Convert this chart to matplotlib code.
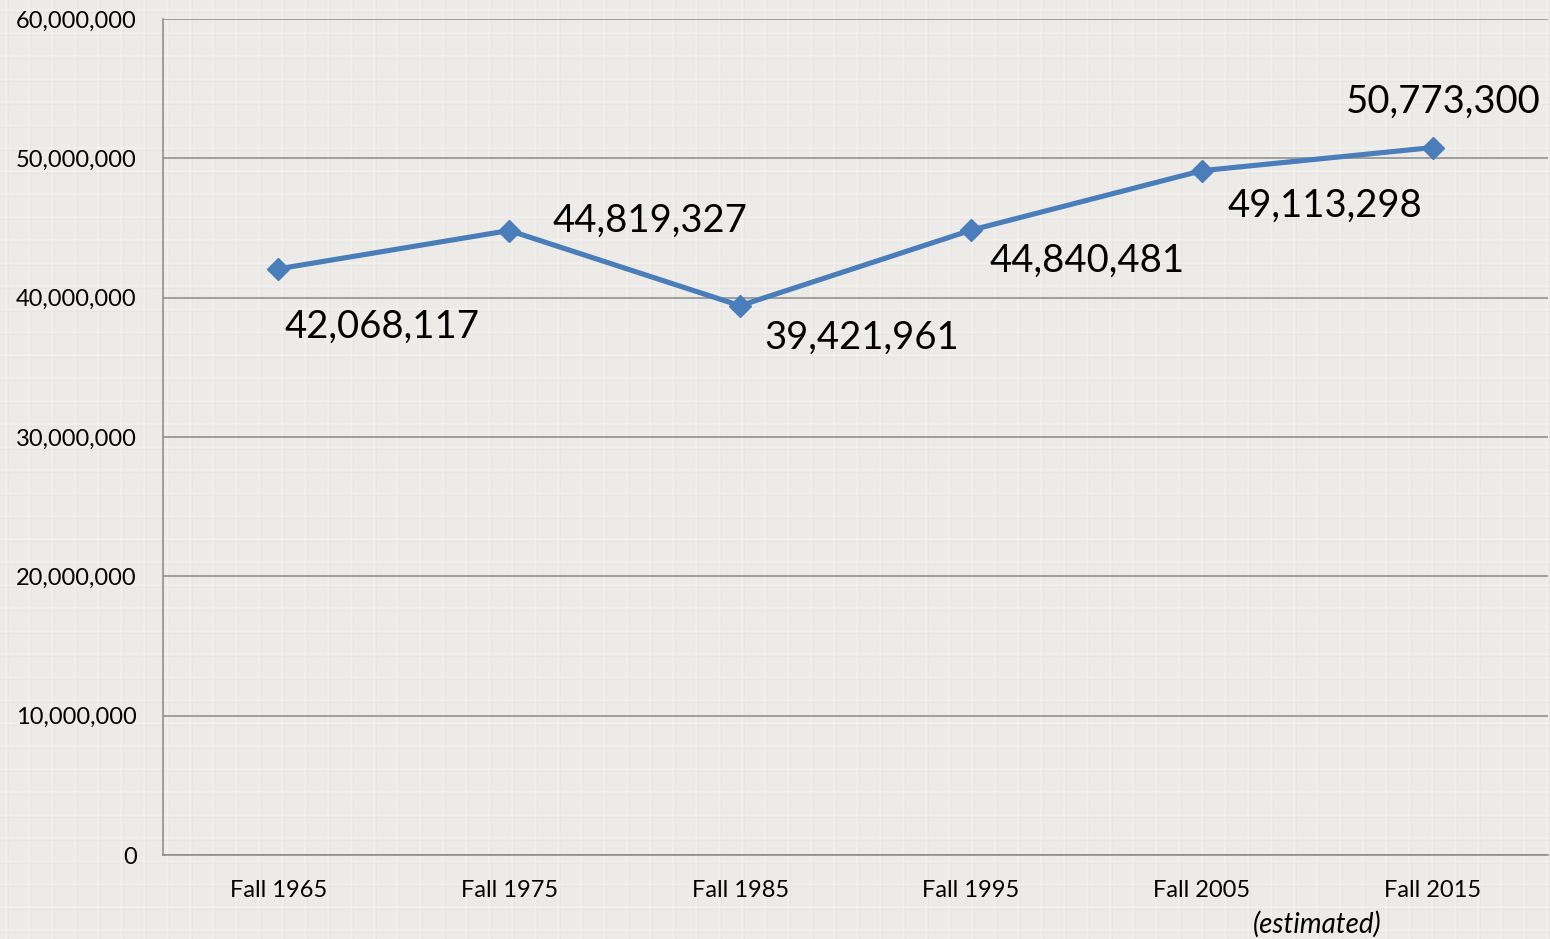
import numpy as np
import matplotlib.pyplot as plt
from matplotlib.transforms import blended_transform_factory

plt.rcParams['font.family'] = ['Lato', 'DejaVu Sans']

categories = ["Fall 1965", "Fall 1975", "Fall 1985", "Fall 1995", "Fall 2005", "Fall 2015"]
enrollment = [42068117, 44819327, 39421961, 44840481, 49113298, 50773300]
yticks = [0, 10000000, 20000000, 30000000, 40000000, 50000000, 60000000]
# label offsets in pixels from each point
label_offsets = [(104, -58), (141, 10), (122, -32), (116, -31), (123, -35), (11, 46)]

paper = "#ecebe7"
fig = plt.figure(figsize=(15.5, 9.39), dpi=100, facecolor=paper)

# faint graph-paper texture behind everything
bg = fig.add_axes([0, 0, 1, 1], zorder=-1)
bg.set_xlim(0, 1550)
bg.set_ylim(939, 0)
bg.set_facecolor(paper)
for gx in np.arange(6, 1550, 23):
    bg.axvline(gx, color="#f5f4f1", lw=1.2, alpha=0.6)
    bg.axvline(gx + 1.5, color="#e0ded9", lw=0.6, alpha=0.4)
for gy in np.arange(10, 939, 23):
    bg.axhline(gy, color="#f5f4f1", lw=1.2, alpha=0.6)
    bg.axhline(gy + 1.5, color="#e0ded9", lw=0.6, alpha=0.4)
bg.axis("off")

ax = fig.add_axes([163 / 1550, 1 - 855 / 939, (1548 - 163) / 1550, (855 - 19) / 939])
ax.set_facecolor("none")

x = np.arange(len(categories))
ax.plot(x, enrollment, color="#4a7ebb", lw=3.7, marker="D", markersize=11,
        markerfacecolor="#4a7ebb", markeredgecolor="#4a7ebb", zorder=3, clip_on=False)

for xi, v, off in zip(x, enrollment, label_offsets):
    ax.annotate(f"{v:,}", (xi, v), xytext=off, textcoords="offset pixels",
                ha="center", va="center", fontsize=27.5, color="black")

ax.set_xlim(-0.5, len(categories) - 0.5)
ax.set_ylim(0, 60000000)
ax.set_yticks(yticks)
ax.set_yticklabels([f"{t:,}" if t else "0" for t in yticks])
ax.set_xticks(x)
ax.set_xticklabels(categories)
ax.tick_params(axis="both", length=0, labelsize=17, colors="black")
ax.tick_params(axis="y", pad=19)
ax.tick_params(axis="x", pad=18)

ax.grid(axis="y", color="#8a8a8a", lw=1.1)
ax.set_axisbelow(True)
for s in ["top", "right"]:
    ax.spines[s].set_visible(False)
for s in ["left", "bottom"]:
    ax.spines[s].set_color("#8a8a8a")
    ax.spines[s].set_linewidth(1.1)

tr = blended_transform_factory(ax.transData, fig.transFigure)
ax.text(4.5, 1 - 924 / 939, "(estimated)", transform=tr, ha="center", va="center",
        fontsize=20, style="italic")

fig.savefig("out.png", dpi=100, facecolor=paper)
